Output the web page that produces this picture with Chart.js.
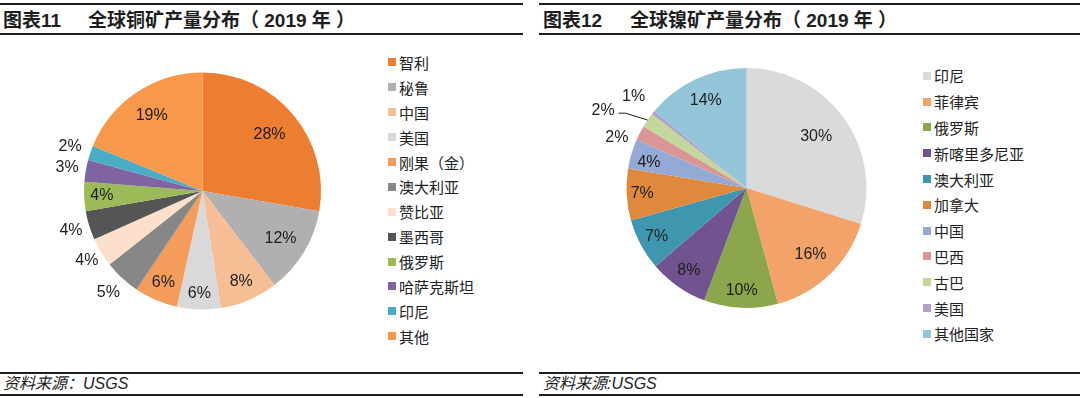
<!DOCTYPE html>
<html>
<head>
<meta charset="utf-8">
<script src="https://cdn.jsdelivr.net/npm/chart.js@4.4.1/dist/chart.umd.min.js"></script>
<style>
  body { margin: 0; background: #fff; width: 1080px; height: 398px; position: relative; overflow: hidden;
         font-family: "Noto Sans CJK SC", sans-serif; color: #1e1e1e; }
  .panel { position: absolute; top: 0; height: 398px; }
  .rule { position: absolute; left: 0; right: 0; height: 2px; background: #1e1e1e; }
  .title { position: absolute; top: 7px; font-size: 19px; font-weight: bold; line-height: 28px; white-space: pre;
           font-family: "Liberation Sans", "Noto Sans CJK SC", sans-serif; }
  .source { position: absolute; left: 3px; top: 373px; font-size: 16px; line-height: 22px; font-style: italic; white-space: nowrap;
            font-family: "Liberation Sans", "Noto Sans CJK SC", sans-serif; }
  canvas { position: absolute; top: 40px; }
  .legend { position: absolute; margin: 0; padding: 0; list-style: none; font-size: 15px; color: #222; }
  .legend li { display: flex; align-items: center; white-space: nowrap; }
  .legend i { display: inline-block; width: 8px; height: 8px; margin-right: 3px; }
</style>
</head>
<body>

<div class="panel" style="left:0;width:523px">
  <div class="rule" style="top:3px"></div>
  <div class="title" style="left:3px">图表11</div>
  <div class="title" style="left:88px">全球铜矿产量分布（ 2019 年 ）</div>
  <div class="rule" style="top:33px"></div>
  <canvas id="copperChart" width="380" height="320" style="left:0"></canvas>
  <ul class="legend" id="copperLegend" style="left:388px;top:50px"></ul>
  <div class="rule" style="top:372px"></div>
  <div class="source">资料来源：USGS</div>
  <div class="rule" style="top:394px"></div>
</div>

<div class="panel" style="left:539px;width:541px">
  <div class="rule" style="top:3px"></div>
  <div class="title" style="left:4px">图表12</div>
  <div class="title" style="left:91px">全球镍矿产量分布（ 2019 年 ）</div>
  <div class="rule" style="top:33px"></div>
  <canvas id="nickelChart" width="380" height="320" style="left:1px"></canvas>
  <ul class="legend" id="nickelLegend" style="left:384px;top:63px"></ul>
  <div class="rule" style="top:372px"></div>
  <div class="source" style="left:4px">资料来源:USGS</div>
  <div class="rule" style="top:394px"></div>
</div>

<script>
  // 图表11 全球铜矿产量分布 (%)
  var copperCountries = ["智利", "秘鲁", "中国", "美国", "刚果（金）", "澳大利亚", "赞比亚", "墨西哥", "俄罗斯", "哈萨克斯坦", "印尼", "其他"];
  var copperShare = [28, 12, 8, 6, 6, 5, 4, 4, 4, 3, 2, 19];
  var copperColors = ["#ED7D31", "#B0B0B0", "#F6BE95", "#D9D9D9", "#F39C5C", "#878787",
                      "#FCE0CC", "#555555", "#9BBB59", "#8064A2", "#4BACC6", "#F7984A"];

  // 图表12 全球镍矿产量分布 (%)
  var nickelCountries = ["印尼", "菲律宾", "俄罗斯", "新喀里多尼亚", "澳大利亚", "加拿大", "中国", "巴西", "古巴", "美国", "其他国家"];
  var nickelShare = [30, 16, 10, 8, 7, 7, 4, 2, 2, 0.5, 14];
  var nickelColors = ["#DADADA", "#F3A26A", "#8CA64B", "#71538F", "#3F97AF", "#E0893D",
                      "#94A9D4", "#D99694", "#C3D69B", "#B2A1C7", "#93C4D7"];

  // percentage labels drawn at mid angle, distance as a fraction of the radius
  var pctLabels = {
    id: "pctLabels",
    afterDatasetsDraw: function(chart, args, opts) {
      var ctx = chart.ctx;
      var values = chart.data.datasets[0].data;
      ctx.save();
      ctx.font = '16px "Liberation Sans", Arial, sans-serif';
      ctx.fillStyle = "#1e1e1e";
      ctx.strokeStyle = "#1e1e1e";
      ctx.lineWidth = 1;
      ctx.textAlign = "center";
      ctx.textBaseline = "middle";
      chart.getDatasetMeta(0).data.forEach(function(arc, i) {
        var p = arc.getProps(["x", "y", "startAngle", "endAngle", "outerRadius"], true);
        var mid = (p.startAngle + p.endAngle) / 2;
        var a = mid + (opts.shift[i] || 0) * Math.PI / 180;
        var r = p.outerRadius * opts.dist[i];
        var x = p.x + Math.cos(a) * r;
        var y = p.y + Math.sin(a) * r;
        var text = Math.max(1, Math.round(values[i])) + "%";
        ctx.fillText(text, x, y);
        if (opts.leader && opts.leader.indexOf(i) != -1) {
          var w = ctx.measureText(text).width;
          ctx.beginPath();
          ctx.moveTo(x + w / 2 + 4, y + 3);
          ctx.lineTo(x + w / 2 + 11, y + 3);
          ctx.lineTo(p.x + Math.cos(mid) * p.outerRadius, p.y + Math.sin(mid) * p.outerRadius);
          ctx.stroke();
        }
      });
      ctx.restore();
    }
  };

  function buildLegend(id, names, colors, rowHeight) {
    var ul = document.getElementById(id);
    names.forEach(function(name, i) {
      var li = document.createElement("li");
      li.style.height = rowHeight + "px";
      li.innerHTML = '<i style="background:' + colors[i] + '"></i>' + name;
      ul.appendChild(li);
    });
  }

  function drawPie(canvasId, names, values, colors, padding, labelOpts) {
    var config = {
      type: "pie",
      data: {
        labels: names,
        datasets: [{
          data: values,
          backgroundColor: colors,
          borderWidth: 0,
          hoverOffset: 0
        }]
      },
      options: {
        responsive: false,
        animation: false,
        events: [],
        layout: { padding: padding },
        plugins: {
          legend: { display: false },
          tooltip: { enabled: false },
          pctLabels: labelOpts
        }
      },
      plugins: [pctLabels]
    };
    return new Chart(document.getElementById(canvasId), config);
  }

  buildLegend("copperLegend", copperCountries, copperColors, 24.9);
  buildLegend("nickelLegend", nickelCountries, nickelColors, 25.8);

  drawPie("copperChart", copperCountries, copperShare, copperColors,
    { left: 84, right: 59, top: 32.5, bottom: 50.5 },
    { dist: [0.74, 0.77, 0.83, 0.87, 0.84, 1.17, 1.14, 1.16, 0.85, 1.16, 1.18, 0.77], shift: [] });

  drawPie("nickelChart", nickelCountries, nickelShare, nickelColors,
    { left: 86.5, right: 53.5, top: 28, bottom: 52 },
    { dist: [0.72, 0.77, 0.86, 0.84, 0.85, 0.87, 0.84, 1.16, 1.36, 1.21, 0.8],
      shift: [0, 0, 0, 0, 0, 0, -2, -6, -6, 0, 0], leader: [8] });
</script>
</body>
</html>
